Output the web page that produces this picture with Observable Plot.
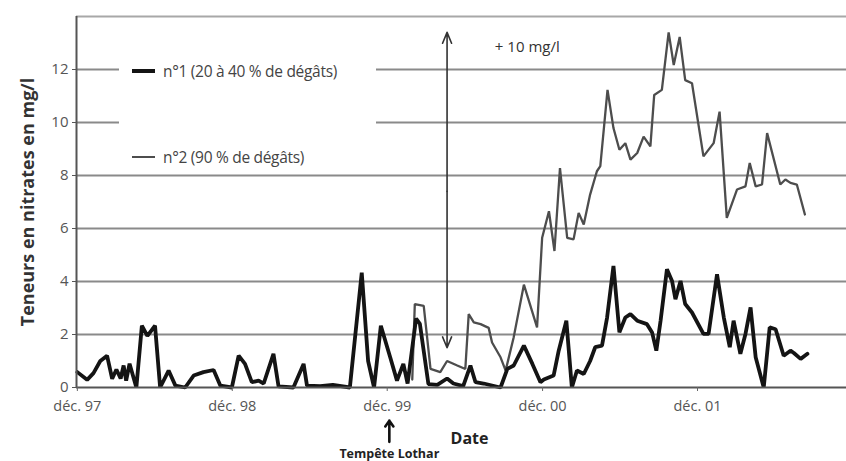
<!DOCTYPE html>
<html><head><meta charset="utf-8">
<script src="https://cdn.jsdelivr.net/npm/d3@7"></script>
<script src="https://cdn.jsdelivr.net/npm/@observablehq/plot@0.6"></script>
<style>
body{margin:0;background:#fff;}
#wrap{position:relative;width:846px;height:461px;font-family:"Open Sans","Liberation Sans",sans-serif;}
#legend{position:absolute;left:119px;top:56px;width:257px;height:118px;background:#fff;}
.row{position:absolute;left:13px;display:flex;align-items:center;font-size:15.5px;color:#444;letter-spacing:-0.3px;white-space:nowrap;}
.sw{width:23px;margin-right:8px;}
</style></head>
<body><div id="wrap"></div>
<script>
// Series n°1 (20 à 40 % de dégâts)
const dates1 = ["1997-12-15","1998-01-07","1998-01-22","1998-02-07","1998-02-23","1998-03-07","1998-03-17","1998-03-27","1998-04-03","1998-04-09","1998-04-17","1998-05-03","1998-05-16","1998-05-29","1998-06-16","1998-06-28","1998-07-18","1998-08-03","1998-08-26","1998-09-15","1998-10-08","1998-11-01","1998-11-17","1998-12-14","1998-12-30","1999-01-14","1999-01-30","1999-02-15","1999-02-27","1999-03-22","1999-04-03","1999-05-08","1999-06-01","1999-06-09","1999-07-10","1999-08-09","1999-09-18","1999-10-16","1999-10-31","1999-11-14","1999-11-30","1999-12-22","2000-01-07","2000-01-22","2000-02-01","2000-02-21","2000-03-01","2000-03-21","2000-04-11","2000-05-04","2000-05-19","2000-06-11","2000-06-28","2000-07-10","2000-07-29","2000-09-07","2000-09-23","2000-10-08","2000-11-01","2000-11-21","2000-12-10","2000-12-18","2001-01-10","2001-01-22","2001-02-09","2001-02-22","2001-03-06","2001-03-22","2001-04-06","2001-04-18","2001-05-04","2001-05-16","2001-05-31","2001-06-14","2001-06-28","2001-07-10","2001-07-26","2001-08-18","2001-08-30","2001-09-09","2001-09-19","2001-10-04","2001-10-16","2001-10-24","2001-11-05","2001-11-16","2001-12-02","2001-12-29","2002-01-10","2002-01-30","2002-02-15","2002-03-01","2002-03-10","2002-03-26","2002-04-07","2002-04-19","2002-05-01","2002-05-20","2002-06-03","2002-06-17","2002-07-06","2002-07-22","2002-07-30","2002-08-15","2002-08-31"];
const values1 = [0.58,0.29,0.54,1.0,1.2,0.33,0.68,0.34,0.83,0.26,0.9,0.0,2.33,1.95,2.33,0.0,0.64,0.07,0.0,0.45,0.58,0.66,0.07,0.0,1.2,0.89,0.2,0.26,0.15,1.27,0.04,0.0,0.89,0.07,0.05,0.1,0.0,4.33,1.0,0.0,2.33,1.14,0.26,0.89,0.15,2.6,2.4,0.13,0.1,0.34,0.15,0.05,0.83,0.2,0.15,0.0,0.7,0.83,1.58,0.89,0.2,0.3,0.45,1.39,2.52,0.0,0.64,0.51,1.0,1.52,1.58,2.64,4.59,2.08,2.64,2.77,2.52,2.39,2.08,1.39,2.52,4.46,4.02,3.33,4.02,3.15,2.83,2.02,2.02,4.27,2.64,1.52,2.52,1.27,2.02,3.02,1.14,0.0,2.27,2.2,1.2,1.39,1.3,1.08,1.27];
// Series n°2 (90 % de dégâts)
const dates2 = ["2000-02-12","2000-02-18","2000-03-10","2000-03-26","2000-04-18","2000-05-04","2000-05-28","2000-06-16","2000-06-24","2000-07-06","2000-07-22","2000-08-10","2000-08-18","2000-09-07","2000-09-19","2000-10-08","2000-11-01","2000-12-02","2000-12-14","2000-12-30","2001-01-12","2001-01-25","2001-02-11","2001-02-26","2001-03-10","2001-03-22","2001-04-06","2001-04-22","2001-04-30","2001-05-17","2001-05-31","2001-06-14","2001-06-28","2001-07-10","2001-07-26","2001-08-10","2001-08-26","2001-09-04","2001-09-22","2001-10-08","2001-10-20","2001-11-03","2001-11-16","2001-12-02","2001-12-29","2002-01-22","2002-02-05","2002-02-22","2002-03-18","2002-04-07","2002-04-17","2002-05-01","2002-05-16","2002-05-28","2002-06-28","2002-07-10","2002-07-22","2002-08-06","2002-08-25"];
const values2 = [0.3,3.15,3.08,0.7,0.58,1.0,0.83,0.7,2.77,2.46,2.39,2.25,1.7,1.14,0.64,1.9,3.88,2.27,5.65,6.65,5.15,8.28,5.65,5.59,6.59,6.15,7.28,8.16,8.35,11.23,9.79,8.97,9.22,8.6,8.85,9.47,9.1,11.04,11.23,13.4,12.17,13.23,11.6,11.48,8.72,9.22,10.41,6.4,7.47,7.59,8.47,7.59,7.66,9.6,7.66,7.85,7.72,7.66,6.53];

const seriesNames = ["n°1 (20 à 40 % de dégâts)", "n°2 (90 % de dégâts)"];
const yTicks = [0, 2, 4, 6, 8, 10, 12];
const gridValues = [2, 4, 6, 8, 10, 12];
const xTickDates = ["1997-12-15","1998-12-15","1999-12-15","2000-12-15","2001-12-15"];
const xTickLabels = ["déc. 97","déc. 98","déc. 99","déc. 00","déc. 01"];
const xDomain = ["1997-12-13","2002-12-01"];
const yMax = 14;
const yLabel = "Teneurs en nitrates en mg/l";
const xLabel = "Date";
const stormDate = "1999-12-20";
const stormLabel = "Tempête Lothar";
const jumpDate = "2000-05-04";
const jumpLow = 1.5, jumpHigh = 13.4, jumpMid = 7.4;
const jumpLabel = "+ 10 mg/l";
const jumpLabelDate = "2000-11-09", jumpLabelY = 12.83;

const P = d => new Date(d + "T00:00:00Z");
const s1 = dates1.map((d, i) => ({date: P(d), v: values1[i]}));
const s2 = dates2.map((d, i) => ({date: P(d), v: values2[i]}));
const ticks = xTickDates.map(P);
const fmt = new Map(ticks.map((t, i) => [+t, xTickLabels[i]]));

const chart = Plot.plot({
  width: 846, height: 461,
  marginLeft: 76, marginRight: 0, marginTop: 16, marginBottom: 74,
  style: {fontFamily: '"Open Sans","Liberation Sans",sans-serif', fontSize: "14px", color: "#555", background: "#fff"},
  x: {type: "utc", domain: xDomain.map(P)},
  y: {domain: [0, yMax]},
  marks: [
    Plot.ruleY(gridValues, {stroke: "#8a8a8a", strokeWidth: 2}),
    Plot.ruleY([yMax], {stroke: "#a8a8a8", strokeWidth: 2}),
    Plot.line(s2, {x: "date", y: "v", stroke: "#4d4d4d", strokeWidth: 2.3, strokeLinejoin: "miter"}),
    Plot.line(s1, {x: "date", y: "v", stroke: "#141414", strokeWidth: 3.8, strokeLinejoin: "miter"}),
    Plot.ruleY([0], {stroke: "#555", strokeWidth: 2}),
    Plot.ruleX([P(xDomain[0])], {stroke: "#555", strokeWidth: 2}),
    Plot.axisY({ticks: yTicks, tickSize: 4, tickPadding: 4, label: null, fontSize: 15, stroke: "#555"}),
    Plot.axisX({ticks, tickSize: 4, tickPadding: 9, label: null, tickFormat: d => fmt.get(+d), fontSize: 14.5, stroke: "#666"}),
    Plot.text([yLabel], {frameAnchor: "left", textAnchor: "middle", rotate: -90, dx: -48, fontSize: 18, fontWeight: "bold", fill: "#333"}),
    // double-headed arrow
    Plot.arrow([{d: P(jumpDate)}], {x1: "d", x2: "d", y1: jumpMid, y2: jumpHigh, stroke: "#333", strokeWidth: 1.6, headLength: 11, headAngle: 45}),
    Plot.arrow([{d: P(jumpDate)}], {x1: "d", x2: "d", y1: jumpMid, y2: jumpLow, stroke: "#333", strokeWidth: 1.6, headLength: 11, headAngle: 45}),
    Plot.text([jumpLabel], {x: P(jumpLabelDate), y: jumpLabelY, fontSize: 15, fill: "#333"}),
    // storm annotation below axis
    Plot.arrow([{d: P(stormDate)}], {x1: "d", x2: "d", y1: -2.05, y2: -1.25, stroke: "#111", strokeWidth: 2.6, headLength: 7, headAngle: 70}),
    Plot.text([stormLabel], {x: P(stormDate), y: -2.5, fontSize: 12.5, fontWeight: "bold", fill: "#222"}),
    Plot.text([xLabel], {x: P("2000-06-26"), y: -1.95, fontSize: 16, fontWeight: "bold", fill: "#222"})
  ]
});

const wrap = document.getElementById("wrap");
wrap.appendChild(chart);
const leg = document.createElement("div");
leg.id = "legend";
leg.innerHTML = `
<div class="row" style="top:4px"><div class="sw" style="height:4px;background:#141414"></div>${seriesNames[0]}</div>
<div class="row" style="top:90px"><div class="sw" style="height:2px;background:#4d4d4d"></div>${seriesNames[1]}</div>`;
wrap.appendChild(leg);
</script>
</body></html>
